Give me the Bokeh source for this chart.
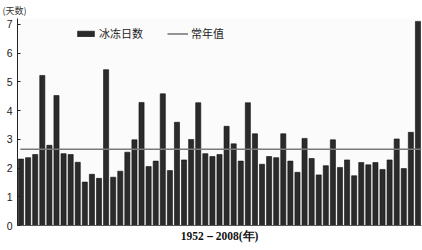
from bokeh.plotting import figure
from bokeh.models import Range1d, FixedTicker, Legend, LegendItem, Title
from bokeh.embed import file_html
from bokeh.resources import INLINE

years = list(range(1952, 2009))
ice_days = [2.31, 2.36, 2.47, 5.22, 2.79, 4.52, 2.50, 2.47, 2.20, 1.51,
            1.78, 1.64, 5.42, 1.68, 1.89, 2.55, 2.98, 4.28, 2.05, 2.24,
            4.58, 1.91, 3.59, 2.28, 2.99, 4.27, 2.50, 2.40, 2.47, 3.45,
            2.84, 2.24, 4.27, 3.19, 2.13, 2.40, 2.36, 3.19, 2.24, 1.85,
            3.03, 2.33, 1.76, 2.08, 2.98, 2.02, 2.28, 1.73, 2.19, 2.11,
            2.19, 1.95, 2.28, 3.01, 1.98, 3.24, 7.10]
normal_value = 2.65
y_ticks = [0, 1, 2, 3, 4, 5, 6, 7]
series_names = ["冰冻日数", "常年值"]
x_title = "1952－2008(年)"
y_title = "(天数)"

p = figure(width=422, height=250, output_backend="svg", toolbar_location=None,
           x_range=Range1d(years[0] - 0.5, years[-1] + 0.5),
           y_range=Range1d(0, 7.2),
           min_border_left=17, min_border_right=1, min_border_top=17, min_border_bottom=25)
p.outline_line_color = None
p.background_fill_color = "#fbfbfb"
p.border_fill_color = "white"
p.xgrid.visible = False
p.ygrid.visible = False

bars = p.vbar(x=years, top=ice_days, width=0.72, fill_color="#2b2b2b",
              line_color="#111111", line_width=0.6)
ln = p.line(x=[years[0] - 0.1, years[-1] + 0.5], y=[normal_value, normal_value],
            line_color="#7a7a7a", line_width=1.6)

p.yaxis.ticker = FixedTicker(ticks=y_ticks)
p.yaxis.minor_tick_line_color = None
p.yaxis.major_tick_in = 3
p.yaxis.major_tick_out = 0
p.yaxis.major_label_standoff = 5
p.yaxis.axis_line_color = "#222222"
p.yaxis.major_tick_line_color = "#222222"
p.yaxis.major_label_text_font = "Liberation Sans"
p.yaxis.major_label_text_font_size = "10.5px"
p.yaxis.major_label_text_color = "#1a1a1a"

p.xaxis.ticker = FixedTicker(ticks=[])
p.xaxis.minor_tick_line_color = None
p.xaxis.major_tick_line_color = None
p.xaxis.major_tick_out = 6
p.xaxis.axis_line_color = "#555555"

legend = Legend(items=[LegendItem(label=series_names[0], renderers=[bars]),
                       LegendItem(label=series_names[1], renderers=[ln])],
                orientation="horizontal", location=(58, 184),
                label_text_font="Noto Sans CJK SC", label_text_font_size="11px",
                label_text_color="#222222",
                glyph_width=21, glyph_height=7, label_height=12, label_standoff=3,
                spacing=24, padding=0, margin=0,
                border_line_color=None, background_fill_alpha=0)
p.add_layout(legend, "center")

p.add_layout(Title(text=x_title, align="center", offset=26, standoff=5,
                   text_font="Liberation Serif", text_font_size="11.5px",
                   text_font_style="bold", text_color="#111111"), "below")
p.add_layout(Title(text=y_title, align="left", offset=-15, standoff=3,
                   text_font="Noto Sans CJK SC", text_font_size="9px",
                   text_font_style="normal", text_color="#333333"), "above")

open("out.html", "w").write(file_html(p, INLINE))
